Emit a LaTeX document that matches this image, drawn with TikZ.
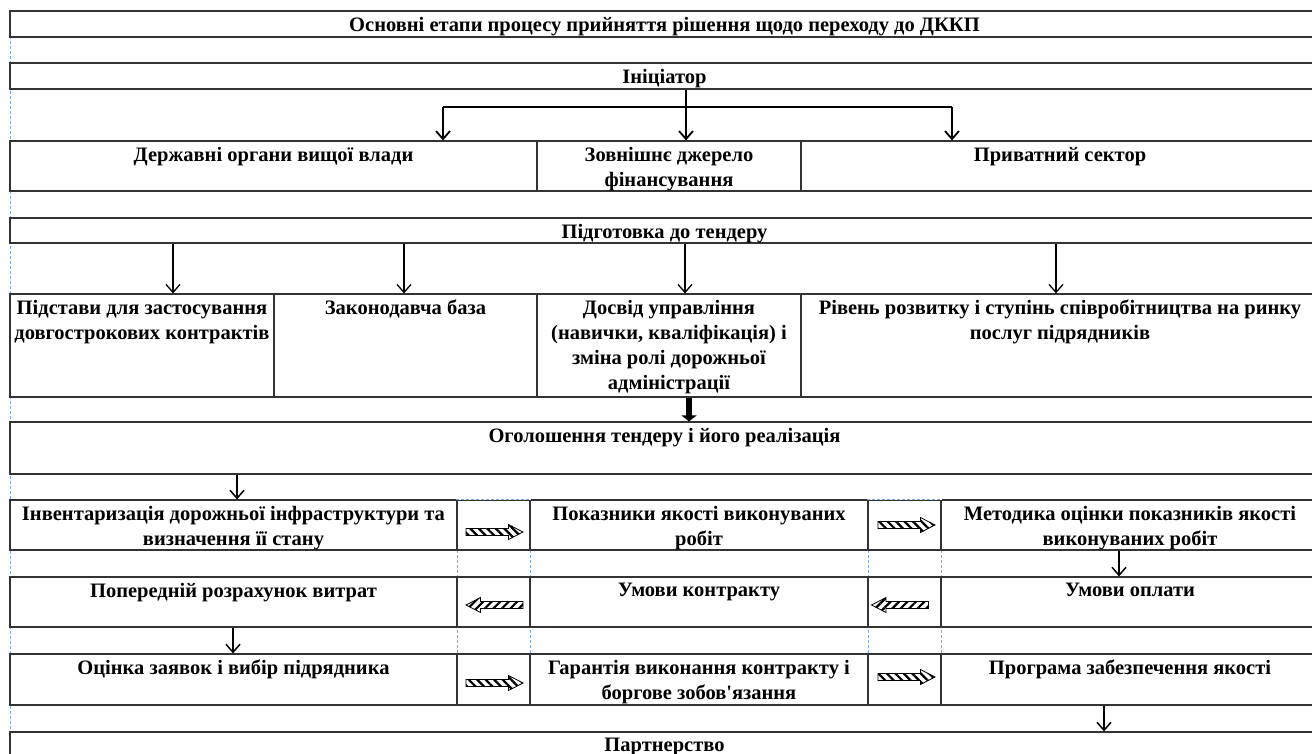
\documentclass[tikz,border=0pt]{standalone}
\usepackage{fontspec}
\setmainfont{Liberation Serif}[Ligatures=TeXOff]
\usetikzlibrary{arrows.meta,patterns.meta}

\definecolor{gridblue}{RGB}{120,170,235}

\newcommand{\tcell}[6]{%
  \node[cell, minimum width={(#4-#2)*1pt}, minimum height={(#5-#3)*1pt}] (#1) at ({(#2+#4)/2},{(#3+#5)/2}) {};
  \node[lbl] (#1-t) at ({(#2+#4)/2},{#3+6}) {#6};}

\tikzset{
  rhatch/.pic={\draw[line width=0.8pt, pattern={Lines[angle=-45,distance=6pt,line width=2.2pt]}]
    (-28.5,-3.5) -- (14,-3.5) -- (14,-7.5) -- (28.5,0) -- (14,7.5) -- (14,3.5) -- (-28.5,3.5) -- cycle;},
  lhatch/.pic={\draw[line width=0.8pt, pattern={Lines[angle=45,distance=6pt,line width=2.2pt]}]
    (28.5,-3.5) -- (-14,-3.5) -- (-14,-7.5) -- (-28.5,0) -- (-14,7.5) -- (-14,3.5) -- (28.5,3.5) -- cycle;},
}

\begin{document}
\begin{tikzpicture}[x=1pt,y=-1pt,
    >={Straight Barb[length=8pt,width=14pt]},
    cell/.style={draw=black!80, line width=1.2pt, inner sep=0pt},
    lbl/.style={anchor=north, inner sep=0pt, align=center,
      font=\fontsize{20.5}{25}\selectfont\bfseries},
    grid/.style={gridblue, line width=0.8pt, dash pattern=on 3pt off 2pt}]
  \useasboundingbox (0,0) rectangle (1312,754);

  \draw[grid] (10,11) -- (10,754);
  \foreach \gx in {457,530,868,941}
    \draw[grid] (\gx,500) -- (\gx,705);

  \tcell{title}{10}{11}{1319}{37}{Основні етапи процесу прийняття рішення щодо переходу до ДККП}
  \tcell{ini}{10}{63}{1319}{89}{Ініціатор}

  \tcell{gov}{10}{141}{537}{191}{Державні органи вищої влади}
  \tcell{ext}{537}{141}{801}{191}{Зовнішнє джерело\\фінансування}
  \tcell{priv}{801}{141}{1319}{191}{Приватний сектор}

  \tcell{prep}{10}{218}{1319}{243}{Підготовка до тендеру}

  \tcell{base}{10}{294}{274}{397}{Підстави для застосування\\довгострокових контрактів}
  \tcell{law}{274}{294}{537}{397}{Законодавча база}
  \tcell{exp}{537}{294}{801}{397}{Досвід управління\\(навички, кваліфікація) і\\зміна ролі дорожньої\\адміністрації}
  \tcell{lvl}{801}{294}{1319}{397}{Рівень розвитку і ступінь співробітництва на ринку\\послуг підрядників}

  \tcell{ann}{10}{422}{1319}{474}{Оголошення тендеру і його реалізація}

  \tcell{inv}{10}{500}{457}{550}{Інвентаризація дорожньої інфраструктури та\\визначення її стану}
  \tcell{ra1}{457}{500}{530}{550}{}
  \tcell{qual}{530}{500}{868}{550}{Показники якості виконуваних\\робіт}
  \tcell{ra2}{868}{500}{941}{550}{}
  \tcell{meth}{941}{500}{1319}{550}{Методика оцінки показників якості\\виконуваних робіт}

  \tcell{cost}{10}{577}{457}{627}{Попередній розрахунок витрат}
  \tcell{la1}{457}{577}{530}{627}{}
  \tcell{cond}{530}{577}{868}{627}{Умови контракту}
  \tcell{la2}{868}{577}{941}{627}{}
  \tcell{pay}{941}{577}{1319}{627}{Умови оплати}

  \tcell{bid}{10}{654}{457}{705}{Оцінка заявок і вибір підрядника}
  \tcell{ra3}{457}{654}{530}{705}{}
  \tcell{guar}{530}{654}{868}{705}{Гарантія виконання контракту і\\боргове зобов'язання}
  \tcell{ra4}{868}{654}{941}{705}{}
  \tcell{prog}{941}{654}{1319}{705}{Програма забезпечення якості}

  \tcell{part}{10}{732}{1319}{770}{Партнерство}

  \draw[white, line width=1.6pt] (ra1.north west) -- (ra1.north east);
  \draw[white, line width=1.6pt] (ra2.north west) -- (ra2.north east);
  \draw[grid] (ra1.north west) -- (ra1.north east);
  \draw[grid] (ra2.north west) -- (ra2.north east);

  \coordinate (sL) at (443,107);
  \coordinate (sM) at (686,107);
  \coordinate (sR) at (952,107);
  \draw[line width=1.8pt] (sL) -- (sR);
  \draw[->,line width=1.8pt] (ini.south -| sM) -- (ext.north -| sM);
  \draw[->,line width=1.8pt] (sL) -- (gov.north -| sL);
  \draw[->,line width=1.8pt] (sR) -- (priv.north -| sR);

  \coordinate (p1) at (173,0);
  \coordinate (p2) at (404,0);
  \coordinate (p3) at (685,0);
  \coordinate (p4) at (1056,0);
  \draw[->,line width=1.3pt] (prep.south -| p1) -- (base.north -| p1);
  \draw[->,line width=1.3pt] (prep.south -| p2) -- (law.north -| p2);
  \draw[->,line width=1.3pt] (prep.south -| p3) -- (exp.north -| p3);
  \draw[->,line width=1.3pt] (prep.south -| p4) -- (lvl.north -| p4);

  \coordinate (tk) at (689,0);
  \draw[line width=6pt,-{Triangle[length=6pt,width=15pt]}] (exp.south -| tk) -- (ann.north -| tk);

  \coordinate (a1) at (237,0);
  \coordinate (a2) at (1119,0);
  \coordinate (a3) at (233,0);
  \coordinate (a4) at (1104,0);
  \draw[->,line width=1.5pt] (ann.south -| a1) -- (inv.north -| a1);
  \draw[->,line width=1.5pt] (meth.south -| a2) -- (pay.north -| a2);
  \draw[->,line width=1.5pt] (cost.south -| a3) -- (bid.north -| a3);
  \draw[->,line width=1.5pt] (prog.south -| a4) -- (part.north -| a4);

  \pic at (494.5,532) {rhatch};
  \pic at (906.5,525) {rhatch};
  \pic at (494.5,605) {lhatch};
  \pic at (900,605) {lhatch};
  \pic at (494.5,683) {rhatch};
  \pic at (906.5,677) {rhatch};
\end{tikzpicture}
\end{document}
